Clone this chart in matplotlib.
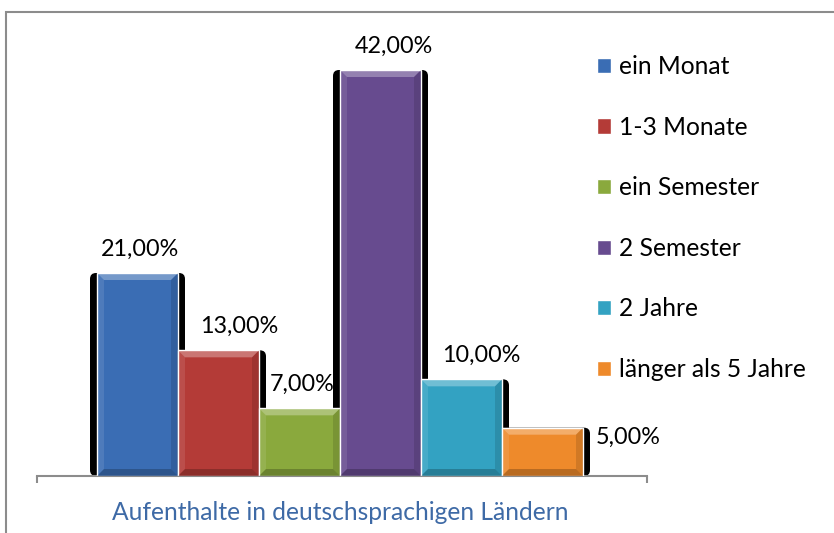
import matplotlib
matplotlib.use("Agg")
import matplotlib.pyplot as plt
from matplotlib.patches import FancyBboxPatch, Polygon, Rectangle

# ---- data ----
series = ["ein Monat", "1-3 Monate", "ein Semester", "2 Semester", "2 Jahre", "länger als 5 Jahre"]
values = [21.0, 13.0, 7.0, 42.0, 10.0, 5.0]
category = "Aufenthalte in deutschsprachigen Ländern"

colors = ["#3a6db4", "#b43b37", "#8aa93d", "#674b8f", "#33a2c2", "#ee8a2b"]
# label offsets (points) relative to bar top centre
label_dx = [2, 15, 2, 10, 14, 62]
label_dy = [17, 17, 17, 17, 17, -7]

W, H = 834, 533
DPI = 100
plt.rcParams['font.family'] = ['Lato', 'DejaVu Sans']
fig = plt.figure(figsize=(W / DPI, H / DPI), dpi=DPI)

# outer chart border
fig.patches.append(Rectangle((6 / W, -0.1), 1.2, (H - 12) / H + 0.1,
                             transform=fig.transFigure, fill=False,
                             edgecolor="#8c8c8c", lw=1.5, zorder=0))

ax_left, ax_right, ax_bottom, ax_top = 37, 647, 476, 41
ax = fig.add_axes([ax_left / W, (H - ax_bottom) / H,
                   (ax_right - ax_left) / W, (ax_bottom - ax_top) / H])
ax.set_ylim(0, 45)
bar_px = 81
x0 = -0.5 - (97 - ax_left) / bar_px
x1 = x0 + (ax_right - ax_left) / bar_px
ax.set_xlim(x0, x1)

px_x = 1.0 / bar_px
px_y = 45.0 / (ax_bottom - ax_top)

bars = []
for i, (name, v, c) in enumerate(zip(series, values, colors)):
    b = ax.bar(i, v, width=1.0, color=c, edgecolor="white", linewidth=1.0,
               label=name, zorder=3)
    bars.append(b[0])

# shadows and bevels, derived from bar geometry
for b in bars:
    x, y, w, h = b.get_x(), b.get_y(), b.get_width(), b.get_height()
    sh = FancyBboxPatch((x - 7 * px_x, y), w + 14 * px_x, h,
                        boxstyle="round,pad=0,rounding_size=%f" % (6 * px_x),
                        mutation_aspect=px_y / px_x,
                        facecolor="black", edgecolor="none", zorder=1)
    ax.add_patch(sh)
    bx, by = 7 * px_x, 7 * px_y
    top = Polygon([(x, y + h), (x + w, y + h), (x + w - bx, y + h - by), (x + bx, y + h - by)],
                  closed=True, facecolor="white", alpha=0.30, edgecolor="none", zorder=4)
    left = Polygon([(x, y), (x, y + h), (x + bx, y + h - by), (x + bx, y + by)],
                   closed=True, facecolor="white", alpha=0.10, edgecolor="none", zorder=4)
    right = Polygon([(x + w, y), (x + w, y + h), (x + w - bx, y + h - by), (x + w - bx, y + by)],
                    closed=True, facecolor="black", alpha=0.12, edgecolor="none", zorder=4)
    bottom = Polygon([(x, y), (x + w, y), (x + w - bx, y + by), (x + bx, y + by)],
                     closed=True, facecolor="black", alpha=0.22, edgecolor="none", zorder=4)
    for p in (top, left, right, bottom):
        ax.add_patch(p)

# data labels
for b, v, dx, dy in zip(bars, values, label_dx, label_dy):
    ax.annotate(("%.2f%%" % v).replace(".", ","),
                xy=(b.get_x() + b.get_width() / 2, b.get_height()),
                xytext=(dx, dy), textcoords="offset points",
                ha="center", va="center", fontsize=16.8, color="black", zorder=6)

# axes styling
for s in ("top", "right", "left"):
    ax.spines[s].set_visible(False)
ax.spines["bottom"].set_color("#8c8c8c")
ax.spines["bottom"].set_linewidth(1.5)
ax.set_yticks([])
ax.set_xticks([(len(values) - 1) / 2])
ax.set_xticklabels([category], fontsize=17.7, color="#3e6aa6")
ax.tick_params(axis="x", which="major", length=0, pad=18)
ax.set_xticks([x0, x1], minor=True)
ax.tick_params(axis="x", which="minor", length=5, width=1.5, color="#8c8c8c")
ax.patch.set_alpha(0)

leg = fig.legend(handles=bars, labels=series, loc="upper left",
                 bbox_to_anchor=(597 / W, 1 - 55 / H), frameon=False,
                 fontsize=17.7, handlelength=0.58, handleheight=0.58,
                 handletextpad=0.3, labelspacing=1.53, borderaxespad=0, borderpad=0)

fig.savefig("out.png", dpi=DPI)
